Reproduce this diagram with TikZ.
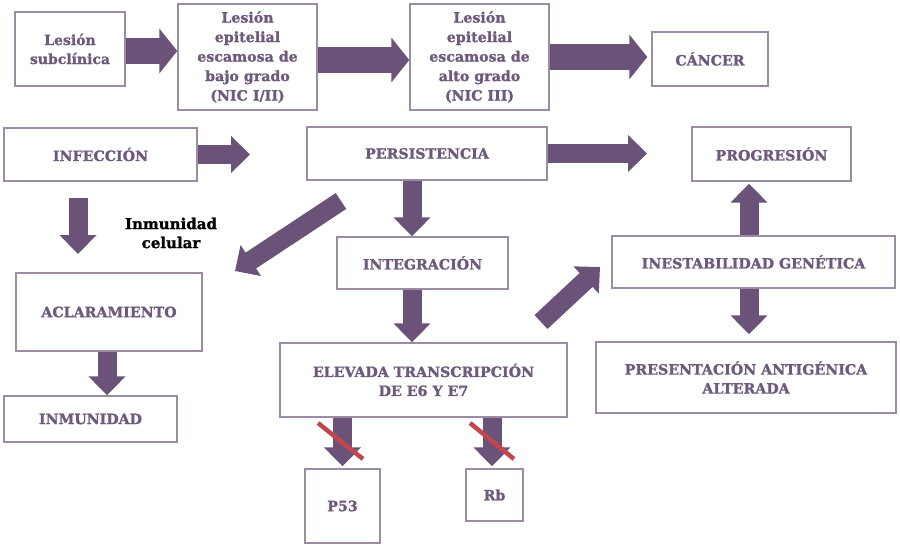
\documentclass[tikz,border=0pt]{standalone}
\usepackage{fontspec}
\setmainfont{DejaVu Serif}[BoldFeatures={FakeBold=1.2}]
\usetikzlibrary{arrows.meta}
\definecolor{morado}{HTML}{6B5279}
\definecolor{letra}{HTML}{6E5A7C}
\definecolor{borde}{HTML}{9B8CA3}
\definecolor{tachon}{HTML}{C2464F}

\begin{document}
\begin{tikzpicture}[x=1pt,y=-1pt,
  caja/.style={draw=borde,line width=1.4pt,fill=white,text=letra,font=\fontsize{14.2}{19}\selectfont\bfseries,align=center,inner sep=0pt},
  flechagorda/.style={morado,line width=26pt,-{Triangle[length=18pt,width=44pt]}},
  flecha/.style={morado,line width=19pt,-{Triangle[length=19pt,width=36pt]}},
  tacha/.style={tachon,line width=4.5pt}]
\useasboundingbox[fill=white] (0,0) rectangle (900,547);
% fila de lesiones
\node[caja,minimum width=110pt,minimum height=74pt,font=\fontsize{14}{19}\selectfont\bfseries] (sub) at (70,49) {Lesión\\subclínica};
\node[caja,minimum width=139pt,minimum height=106pt,font=\fontsize{14.2}{19.5}\selectfont\bfseries] (bajo) at (247.5,57) {Lesión\\epitelial\\escamosa de\\bajo grado\\(NIC I/II)};
\node[caja,minimum width=139pt,minimum height=106pt,font=\fontsize{14.2}{19.5}\selectfont\bfseries] (alto) at (479.5,57) {Lesión\\epitelial\\escamosa de\\alto grado\\(NIC III)};
\node[caja,minimum width=116pt,minimum height=54pt] (cancer) at (710,59) {CÁNCER};
% historia de la infeccion
\node[caja,minimum width=193pt,minimum height=53pt] (infeccion) at (100.5,154.5) {INFECCIÓN};
\node[caja,minimum width=240pt,minimum height=53pt] (persistencia) at (427,153.5) {PERSISTENCIA};
\node[caja,minimum width=159pt,minimum height=54pt] (progresion) at (771.5,154) {PROGRESIÓN};
\node[caja,minimum width=171pt,minimum height=52pt] (integracion) at (422.5,263) {INTEGRACIÓN};
\node[caja,minimum width=283pt,minimum height=52pt] (inestabilidad) at (753.5,262) {INESTABILIDAD GENÉTICA};
\node[caja,minimum width=186pt,minimum height=78pt] (aclaramiento) at (109,312) {ACLARAMIENTO};
\node[caja,minimum width=287pt,minimum height=74pt] (elevada) at (423.5,380) {ELEVADA TRANSCRIPCIÓN\\DE E6 Y E7};
\node[caja,minimum width=300pt,minimum height=71pt] (presentacion) at (746,377.5) {PRESENTACIÓN ANTIGÉNICA\\ALTERADA};
\node[caja,minimum width=173pt,minimum height=46pt] (inmunidad) at (90.5,419) {INMUNIDAD};
\node[caja,minimum width=75pt,minimum height=74pt] (p53) at (342.5,506) {P53};
\node[caja,minimum width=57pt,minimum height=52pt] (rb) at (494.5,495) {Rb};
\node[align=center,font=\fontsize{15}{19}\selectfont\bfseries] (celular) at (171,233) {Inmunidad\\celular};
% puntos sueltos de las flechas
\coordinate (finf) at (250,154.5);
\coordinate (fper) at (647,153.5);
\coordinate (baja1) at (78,198);
\coordinate (baja2) at (78,254);
\coordinate (diag1) at (341,201);
\coordinate (diag2) at (235,271);
\coordinate (sube1) at (541,322);
\coordinate (sube2) at (600,267);
\coordinate (eje) at (412,0);
\coordinate (eje2) at (749,0);
% flechas
\draw[flechagorda] ([yshift=-2pt]sub.east) -- ([yshift=-2pt]sub.east -| bajo.west);
\draw[flechagorda] ([yshift=-3pt]bajo.east) -- ([yshift=-3pt]alto.west);
\draw[flechagorda,shorten >=4pt] (alto.east) -- (alto.east -| cancer.west);
\draw[flecha] (infeccion.east) -- (finf);
\draw[flecha] (persistencia.east) -- (fper);
\draw[flecha] (baja1) -- (baja2);
\draw[flecha] (diag1) -- (diag2);
\draw[flecha] (sube1) -- (sube2);
\draw[flecha] (persistencia.south -| eje) -- (integracion.north -| eje);
\draw[flecha] (integracion.south -| eje) -- (elevada.north -| eje);
\draw[flecha,shorten >=2pt] (inestabilidad.north -| eje2) -- (progresion.south -| eje2);
\draw[flecha,shorten >=7pt] (inestabilidad.south -| eje2) -- (presentacion.north -| eje2);
\draw[flecha] (aclaramiento.south -| 107,0) -- (inmunidad.north -| 107,0);
\draw[flecha,shorten >=2pt] (elevada.south -| p53.north) -- (p53.north);
\draw[flecha,shorten >=2pt] (elevada.south -| 492,0) -- (rb.north -| 492,0);
% inhibicion de p53 y rb
\draw[tacha] (318,423) -- (363,459);
\draw[tacha] (470,423) -- (514,459);
\end{tikzpicture}
\end{document}
